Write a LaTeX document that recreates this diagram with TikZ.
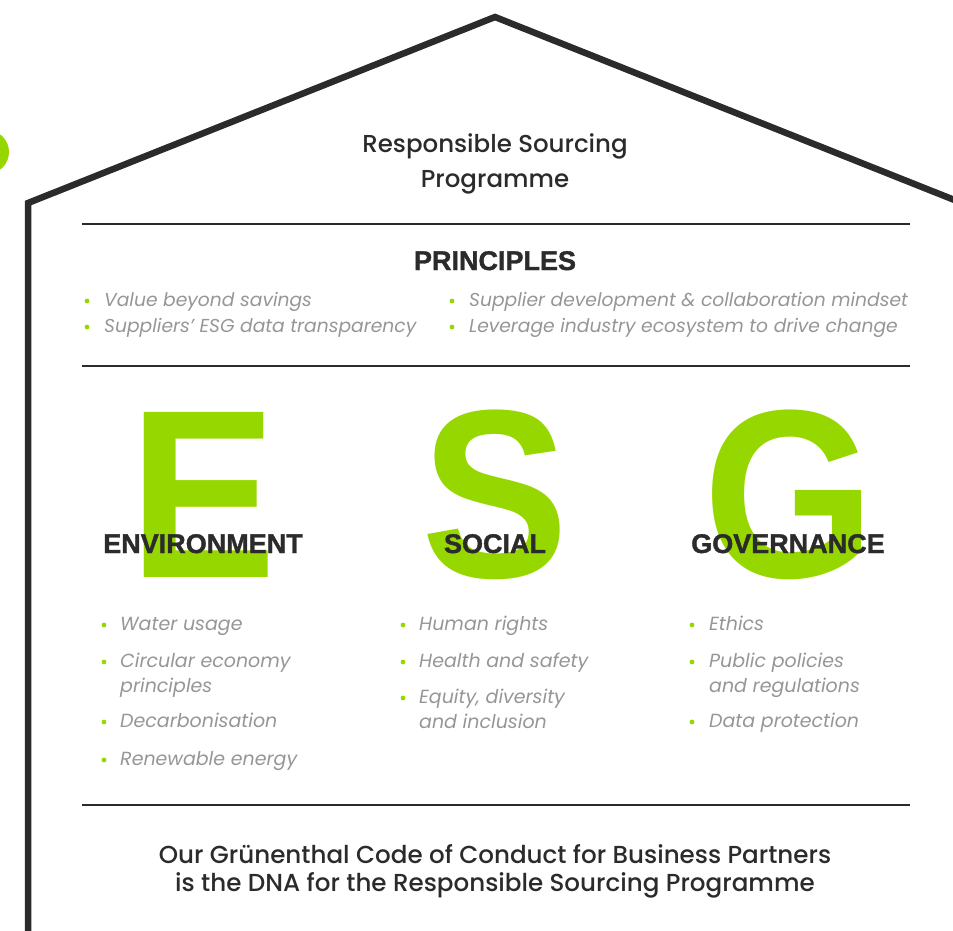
\documentclass[tikz,border=0pt]{standalone}
\usepackage{fontspec}
\setmainfont{Poppins}
\IfFontExistsTF{Poppins Medium}
  {\newfontfamily\popmed{Poppins Medium}}
  {\newfontfamily\popmed{Poppins}}
\newfontfamily\esgfont{Liberation Sans}
\newfontfamily\esgheavy{Liberation Sans}[FakeBold=1.4]
\usepackage{tikz}

\definecolor{esggreen}{RGB}{151,215,0}
\definecolor{inkdark}{RGB}{43,43,43}
\definecolor{inkgrey}{RGB}{150,150,150}

\tikzset{
  house/.style={draw=inkdark, line width=6.5pt, line join=miter},
  rule/.style={draw=inkdark, line width=2pt},
  title/.style={text=inkdark, anchor=base, inner sep=0pt, font=\popmed\fontsize{24.5}{28}\selectfont},
  heading/.style={text=inkdark, anchor=base, inner sep=0pt, font=\esgheavy\bfseries\fontsize{27}{30}\selectfont},
  bigletter/.style={text=esggreen, anchor=base, inner sep=0pt, font=\esgfont\bfseries\fontsize{240}{240}\selectfont},
  item/.style={text=inkgrey, anchor=base west, inner sep=0pt, font=\itshape\fontsize{19}{22}\selectfont},
  topitem/.style={item, font=\itshape\fontsize{18.7}{22}\selectfont},
  footer/.style={text=inkdark, anchor=base, inner sep=0pt, font=\popmed\fontsize{24.6}{28}\selectfont},
  dot/.style={fill=esggreen},
}

\begin{document}
\begin{tikzpicture}[x=1pt,y=-1pt]
\useasboundingbox (0,0) rectangle (953,930);

% house outline and the green dot at the left
\fill[esggreen] (-13,152) circle (22);
\draw[house] (28,940) -- (28,203) -- (495,17) -- (962,203) -- (962,940);

\draw[rule] (82,224) -- (910,224);
\draw[rule] (82,366) -- (910,366);
\draw[rule] (82,805) -- (910,805);

\node[title] (RS1) at (495,152)
{Responsible Sourcing};
\node[title] (RS2) at (495,187)
{Programme};

% principles
\node[heading] (PR) at (495,270)
{PRINCIPLES};
\fill[dot] (87,301) circle (2.4);
\node[topitem] (P1) at (104,306)
{Value beyond savings};
\fill[dot] (87,327) circle (2.4);
\node[topitem] (P2) at (104,332)
{Suppliers’ ESG data transparency};
\fill[dot] (452,301) circle (2.4);
\node[topitem] (P3) at (469,306)
{Supplier development \& collaboration mindset};
\fill[dot] (452,327) circle (2.4);
\node[topitem] (P4) at (469,332)
{Leverage industry ecosystem to drive change};

% big letters
\node[bigletter] (E) at (203,577)
{\scalebox{0.92}[1]{E}};
\node[bigletter] (S) at (495,577)
{\scalebox{0.92}[1]{S}};
\node[bigletter] (G) at (789,577)
{\scalebox{0.92}[1]{G}};

\node[heading] (EN) at (203,553)
{ENVIRONMENT};
\node[heading] (SO) at (495,553)
{SOCIAL};
\node[heading] (GO) at (788,553)
{GOVERNANCE};

% environment
\fill[dot] (104,625) circle (2.4);
\node[item] (E1) at (120,630)
{Water usage};
\fill[dot] (104,662) circle (2.4);
\node[item] (E2) at (120,667)
{Circular economy};
\node[item] (E2b) at (120,692)
{principles};
\fill[dot] (104,722) circle (2.4);
\node[item] (E3) at (120,727)
{Decarbonisation};
\fill[dot] (104,760) circle (2.4);
\node[item] (E4) at (120,765)
{Renewable energy};

% social
\fill[dot] (403,625) circle (2.4);
\node[item] (S1) at (419,630)
{Human rights};
\fill[dot] (403,662) circle (2.4);
\node[item] (S2) at (419,667)
{Health and safety};
\fill[dot] (403,698) circle (2.4);
\node[item] (S3) at (419,703)
{Equity, diversity};
\node[item] (S3b) at (419,728)
{and inclusion};

% governance
\fill[dot] (692,625) circle (2.4);
\node[item] (G1) at (709,630)
{Ethics};
\fill[dot] (692,662) circle (2.4);
\node[item] (G2) at (709,667)
{Public policies};
\node[item] (G2b) at (709,692)
{and regulations};
\fill[dot] (692,722) circle (2.4);
\node[item] (G3) at (709,727)
{Data protection};

\node[footer] (F1) at (495,863)
{Our Grünenthal Code of Conduct for Business Partners};
\node[footer] (F2) at (495,891)
{is the DNA for the Responsible Sourcing Programme};
\end{tikzpicture}
\end{document}
